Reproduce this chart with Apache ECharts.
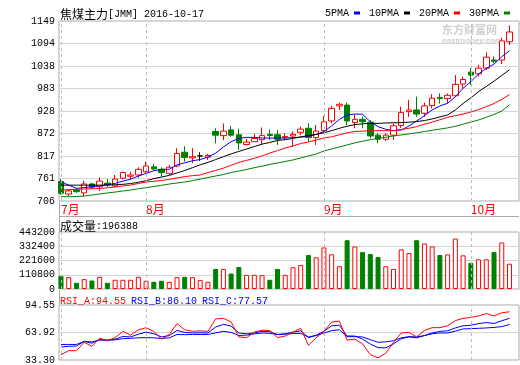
<!DOCTYPE html>
<html><head><meta charset="utf-8">
<script src="https://cdn.jsdelivr.net/npm/echarts@6/dist/echarts.min.js"></script>
<style>html,body{margin:0;padding:0;background:#fff}#c{width:520px;height:365px}</style>
</head><body><div id="c"></div>
<script>
const dates = ['2016-07-15','2016-07-18','2016-07-19','2016-07-20','2016-07-21','2016-07-22','2016-07-25','2016-07-26','2016-07-27','2016-07-28','2016-07-29',
'2016-08-01','2016-08-02','2016-08-03','2016-08-04','2016-08-05','2016-08-08','2016-08-09','2016-08-10','2016-08-11','2016-08-12','2016-08-15','2016-08-16','2016-08-17','2016-08-18','2016-08-19','2016-08-22','2016-08-23','2016-08-24','2016-08-25','2016-08-26','2016-08-29','2016-08-30','2016-08-31',
'2016-09-01','2016-09-02','2016-09-05','2016-09-06','2016-09-07','2016-09-08','2016-09-09','2016-09-12','2016-09-13','2016-09-14','2016-09-19','2016-09-20','2016-09-21','2016-09-22','2016-09-23','2016-09-26','2016-09-27','2016-09-28','2016-09-29',
'2016-10-10','2016-10-11','2016-10-12','2016-10-13','2016-10-14','2016-10-17'];
const opens  = [754,723,733,726,748,741,750,743,762,767,770,778,790,784,774,792,826,812,817,814,877,867,881,869,845,852,857,870,869,863,866,875,885,862,879,903,940,942,899,907,900,868,858,868,892,926,930,922,941,961,958,965,994,1023,1019,1033,1053,1053,1098];
const closes = [725,731,729,748,740,755,746,760,776,770,784,792,785,776,789,823,813,815,817,818,868,878,868,849,851,860,867,867,858,865,870,883,862,878,901,934,944,903,907,901,866,858,868,891,924,930,920,940,959,958,966,993,1005,1016,1033,1060,1050,1100,1122];
const lows   = [721,718,726,717,735,731,740,741,759,760,763,776,782,766,770,789,803,799,805,807,848,856,864,832,843,852,846,856,844,856,840,868,852,844,875,897,930,893,885,885,860,848,854,856,886,913,913,913,934,946,946,963,983,991,1012,1028,1045,1043,1090];
const highs  = [760,734,737,756,751,764,760,770,778,778,789,803,797,789,795,836,841,836,826,822,885,897,891,884,859,871,887,882,881,873,877,889,897,893,915,940,948,948,918,914,905,873,873,897,938,955,963,948,969,971,971,1016,1012,1033,1041,1072,1062,1108,1138];
const volumes = [102300,92300,48500,76900,66200,94600,48500,71600,71600,71600,94600,63900,56200,63900,56200,92300,94600,92300,69200,56200,156200,156200,120000,171600,110000,110000,107700,71600,156200,110000,169300,187000,263900,246200,323100,269300,177000,379300,330800,287000,271600,248500,177000,156200,307800,279300,379300,353900,330800,263900,269300,392400,261600,202300,230800,230800,287000,361600,196388];
const ma5  = [753.5,745,737,739,741,743,746,749.5,755,759.5,767.5,774,780.6,784,784,795,800,805,808,814,824,839,852,860,862.7,862.7,861,861,861,861,862,863,865,870,876.6,891,907,917.7,920,919.5,901,889,882.5,879,880.8,890.6,903,916,930,940,946.5,962.7,983.4,999.6,1018.6,1032.6,1043,1061,1076];
const ma10 = [745,745,745,745,745,745,745,746,747,749,752,756,761,765,769,775,781,788,795,801,808,815,822,828,834,840,846,850,855,857,860,864,867,870,874,879,885,890,894,896,897,897,898,898.5,899,900,901.5,904,908,913,918,930,946,960,975,988,1001,1015,1029];
const ma20 = [733,734,735,735.6,736,737,738.5,740.5,743,745.4,749,752.8,754.5,756.5,759,762.6,766,768.3,770,776,781,787,794,801,806,811,817,824,830,836.5,841.4,847.5,851,856,861,864,869,874,877,878,879,879,879,879,882,885,889,895,900,906,912,916,920,925,931,938,946,956,968];
const ma30 = [716.6,716.6,717,718.3,720.8,723.3,725.7,728,730.6,733,736,738.8,741.7,744.7,747.8,750.3,752.8,756,760,763.9,767.5,771.2,776,779.8,783.5,788,791.7,796,799.5,803.3,807,812,816.8,821.7,829,834,839,844,849,853,857,860,863,866,868.5,871,874,877,880,883,886,890,895,900.4,905.4,912,919,927.5,943];
const rsiA = [39.2,43.7,43.7,53,48.5,57.5,54.8,58.2,65.2,61,66.9,69.3,65.2,56.5,61.7,73.8,66.9,65.2,65.8,65.2,79,79.7,75.6,59,58.2,64.4,66.5,66.2,58.2,60,64.4,68.6,49.6,58.2,65.2,75.6,76.6,55.4,56.5,51.3,39.2,35.7,40.9,53,63.4,64.1,59,66.2,69.3,69.3,71.4,77.2,79.7,80.7,82.4,84.9,82.4,85.9,87];
const rsiB = [47.8,48.5,48.9,54,52,56.5,55.5,56.5,59.5,59,62,64.4,62.5,59,60.5,66.2,64,63.4,63.6,63.4,70,73,71,63.4,62.5,63.4,65.2,64.8,61.7,62.5,64.4,65.8,58.2,61,65.2,71.4,72,60,60,56.5,51,47.1,46.8,51.3,57,59,58,60.5,63.5,65.2,65.8,69,71.4,72,73.8,75,74,77,79.7];
const rsiC = [50.6,50.6,50.6,54,53.5,55.4,55.2,55.8,57,57.5,58,58.2,58,57.2,58,61.7,61.5,61.7,61.7,61.7,63.5,65.2,64,60.6,61,62.4,63.4,63,61.7,62,62.7,63,59,60.5,63.4,66,66.9,59.3,59.3,59,56,53,53.5,54.8,58,59.3,59,60.5,62.5,63.4,63.4,65.5,67.9,68.2,68.6,69,69.6,70.5,72.8];
const priceTicks = [706, 761, 817, 872, 928, 983, 1038, 1094, 1149];
const volumeTicks = [0, 110800, 221600, 332400, 443200];
const rsiTicks = ['33.30', '63.92', '94.55'];
const rsiLabels = ['RSI_A:94.55', 'RSI_B:86.10', 'RSI_C:77.57'];
const maNames = ['5PMA', '10PMA', '20PMA', '30PMA'];

const MONO = "'Liberation Mono', 'DejaVu Sans Mono', monospace";
const CJK = "'Noto Sans CJK SC', sans-serif";
const RED = '#ff0000', GREEN = '#008000', BLUE = '#0000ff', BLACK = '#000000';
const N = dates.length;

const monthStarts = [];
const monthLabel = {};
dates.forEach((d, i) => {
  const m = d.slice(5, 7);
  if (i === 0 || m !== dates[i - 1].slice(5, 7)) { monthStarts.push(i); monthLabel[i] = parseInt(m, 10) + '月'; }
});

const xMin = -0.26, xMax = N - 1 + 1.23;
function xAxisFor(gi, labels) {
  return {
    type: 'value', gridIndex: gi, min: xMin, max: xMax, position: 'bottom',
    axisLine: { show: false }, axisTick: { show: false }, splitLine: { show: false },
    axisLabel: labels ? {
      show: true, customValues: monthStarts, color: RED, fontFamily: CJK, fontSize: 12,
      fontWeight: 'normal', margin: 2, align: 'left', formatter: v => monthLabel[Math.round(v)] || ''
    } : { show: false }
  };
}
const axisLabelStyle = { color: '#000', fontFamily: MONO, fontSize: 10, fontWeight: 'normal', margin: 4 };
const monthLines = {
  silent: true, symbol: 'none', label: { show: false }, animation: false,
  lineStyle: { color: '#bdbdbd', type: [3, 3], width: 1 },
  data: monthStarts.map(i => ({ xAxis: i }))
};
const frame = { show: true, borderColor: '#aaaaaa', borderWidth: 1, backgroundColor: 'transparent' };
const richBase = {
  c: { fontFamily: CJK, fontSize: 12, fontWeight: 'normal', color: '#000', lineHeight: 14 },
  a: { fontFamily: MONO, fontSize: 10, fontWeight: 'normal', color: '#000', lineHeight: 14 },
  r: { fontFamily: MONO, fontSize: 10, fontWeight: 'normal', color: RED, lineHeight: 14 },
  b: { fontFamily: MONO, fontSize: 10, fontWeight: 'normal', color: BLUE, lineHeight: 14 }
};

const option = {
  animation: false,
  backgroundColor: '#ffffff',
  title: [
    { text: '{c|焦煤主力}{a|[JMM] 2016-10-17}', left: 60, top: 7, padding: 0,
      textStyle: { fontWeight: 'normal', rich: richBase } },
    { text: '{c|成交量}{a|:' + volumes[N - 1] + '}', left: 60, top: 219, padding: 0,
      textStyle: { fontWeight: 'normal', rich: richBase } },
    { text: '{r|' + rsiLabels[0] + '} {b|' + rsiLabels[1] + '} {b|' + rsiLabels[2] + '}', left: 60, top: 292, padding: 0,
      textStyle: { fontWeight: 'normal', rich: richBase } }
  ],
  legend: {
    right: 10, top: 8, padding: 0, itemWidth: 6, itemHeight: 3, itemGap: 9, align: 'right', icon: 'rect',
    textStyle: { fontFamily: MONO, fontSize: 10, color: '#000' },
    data: maNames
  },
  graphic: [
    { type: 'text', left: 442, top: 24, silent: true, style: { text: '东方财富网', font: 'bold 11px ' + CJK, fill: '#d0d0d0' } },
    { type: 'text', left: 442, top: 37, silent: true, style: { text: 'eastmoney.com', font: 'italic bold 8px Arial, sans-serif', fill: '#d0d0d0' } },
    { type: 'line', silent: true, shape: { x1: 59, y1: 216.5, x2: 519, y2: 216.5 }, style: { stroke: '#aaaaaa', lineWidth: 1 } },
    { type: 'line', silent: true, shape: { x1: 59.5, y1: 201, x2: 59.5, y2: 232 }, style: { stroke: '#aaaaaa', lineWidth: 1 } },
    { type: 'line', silent: true, shape: { x1: 59.5, y1: 289, x2: 59.5, y2: 305 }, style: { stroke: '#aaaaaa', lineWidth: 1 } }
  ],
  grid: [
    Object.assign({ left: 59, right: 1, top: 21, height: 180 }, frame),
    Object.assign({ left: 59, right: 1, top: 232, height: 57 }, frame),
    Object.assign({ left: 59, right: 1, top: 305, height: 59 }, frame)
  ],
  xAxis: [xAxisFor(0, true), xAxisFor(1, false), xAxisFor(2, false)],
  yAxis: [
    { type: 'value', gridIndex: 0, position: 'left', min: priceTicks[0], max: priceTicks[priceTicks.length - 1], show: false },
    { type: 'value', gridIndex: 0, position: 'left', min: 0, max: priceTicks.length - 1, interval: 1,
      axisLine: { show: false }, axisTick: { show: false },
      splitLine: { show: true, lineStyle: { color: '#d6d6d6' } },
      axisLabel: Object.assign({ formatter: v => String(priceTicks[v]) }, axisLabelStyle) },
    { type: 'value', gridIndex: 1, position: 'left', min: volumeTicks[0], max: volumeTicks[volumeTicks.length - 1], interval: volumeTicks[1] - volumeTicks[0],
      axisLine: { show: false }, axisTick: { show: false },
      splitLine: { show: true, lineStyle: { color: '#d6d6d6' } },
      axisLabel: Object.assign({ formatter: v => String(v) }, axisLabelStyle) },
    { type: 'value', gridIndex: 2, position: 'left', min: parseFloat(rsiTicks[0]), max: parseFloat(rsiTicks[rsiTicks.length - 1]), show: false },
    { type: 'value', gridIndex: 2, position: 'left', min: 0, max: rsiTicks.length - 1, interval: 1,
      axisLine: { show: false }, axisTick: { show: false },
      splitLine: { show: true, lineStyle: { color: '#d6d6d6' } },
      axisLabel: Object.assign({ formatter: v => rsiTicks[v] }, axisLabelStyle) }
  ],
  series: [
    { name: 'K', type: 'candlestick', xAxisIndex: 0, yAxisIndex: 0, barWidth: 6,
      encode: { x: 0, y: [1, 2, 3, 4] },
      data: dates.map((d, i) => [i, opens[i], closes[i], lows[i], highs[i]]),
      itemStyle: { color: '#ffffff', color0: GREEN, borderColor: RED, borderColor0: GREEN, borderColorDoji: BLACK, borderWidth: 1 },
      markLine: monthLines, z: 3 },
    { name: maNames[0], type: 'line', xAxisIndex: 0, yAxisIndex: 0, symbol: 'none', color: BLUE, lineStyle: { width: 1, color: BLUE }, data: ma5.map((v, i) => [i, v]), z: 4 },
    { name: maNames[1], type: 'line', xAxisIndex: 0, yAxisIndex: 0, symbol: 'none', color: BLACK, lineStyle: { width: 1, color: BLACK }, data: ma10.map((v, i) => [i, v]), z: 4 },
    { name: maNames[2], type: 'line', xAxisIndex: 0, yAxisIndex: 0, symbol: 'none', color: RED, lineStyle: { width: 1, color: RED }, data: ma20.map((v, i) => [i, v]), z: 4 },
    { name: maNames[3], type: 'line', xAxisIndex: 0, yAxisIndex: 0, symbol: 'none', color: GREEN, lineStyle: { width: 1, color: GREEN }, data: ma30.map((v, i) => [i, v]), z: 4 },
    { name: 'VOL', type: 'bar', xAxisIndex: 1, yAxisIndex: 2, barWidth: 5,
      data: volumes.map((v, i) => ({
        value: [i, v],
        itemStyle: closes[i] >= opens[i] ? { color: '#ffffff', borderColor: RED, borderWidth: 1 } : { color: GREEN, borderColor: GREEN, borderWidth: 1 }
      })),
      markLine: monthLines },
    { name: 'RSI_A', type: 'line', xAxisIndex: 2, yAxisIndex: 3, symbol: 'none', lineStyle: { width: 1, color: RED }, color: RED, data: rsiA.map((v, i) => [i, v]), markLine: monthLines, z: 4 },
    { name: 'RSI_B', type: 'line', xAxisIndex: 2, yAxisIndex: 3, symbol: 'none', lineStyle: { width: 1, color: BLUE }, color: BLUE, data: rsiB.map((v, i) => [i, v]), z: 3 },
    { name: 'RSI_C', type: 'line', xAxisIndex: 2, yAxisIndex: 3, symbol: 'none', lineStyle: { width: 1, color: BLUE }, color: BLUE, data: rsiC.map((v, i) => [i, v]), z: 3 }
  ]
};
const chart = echarts.init(document.getElementById('c'), null, { renderer: 'canvas' });
chart.setOption(option);
</script>
</body></html>
